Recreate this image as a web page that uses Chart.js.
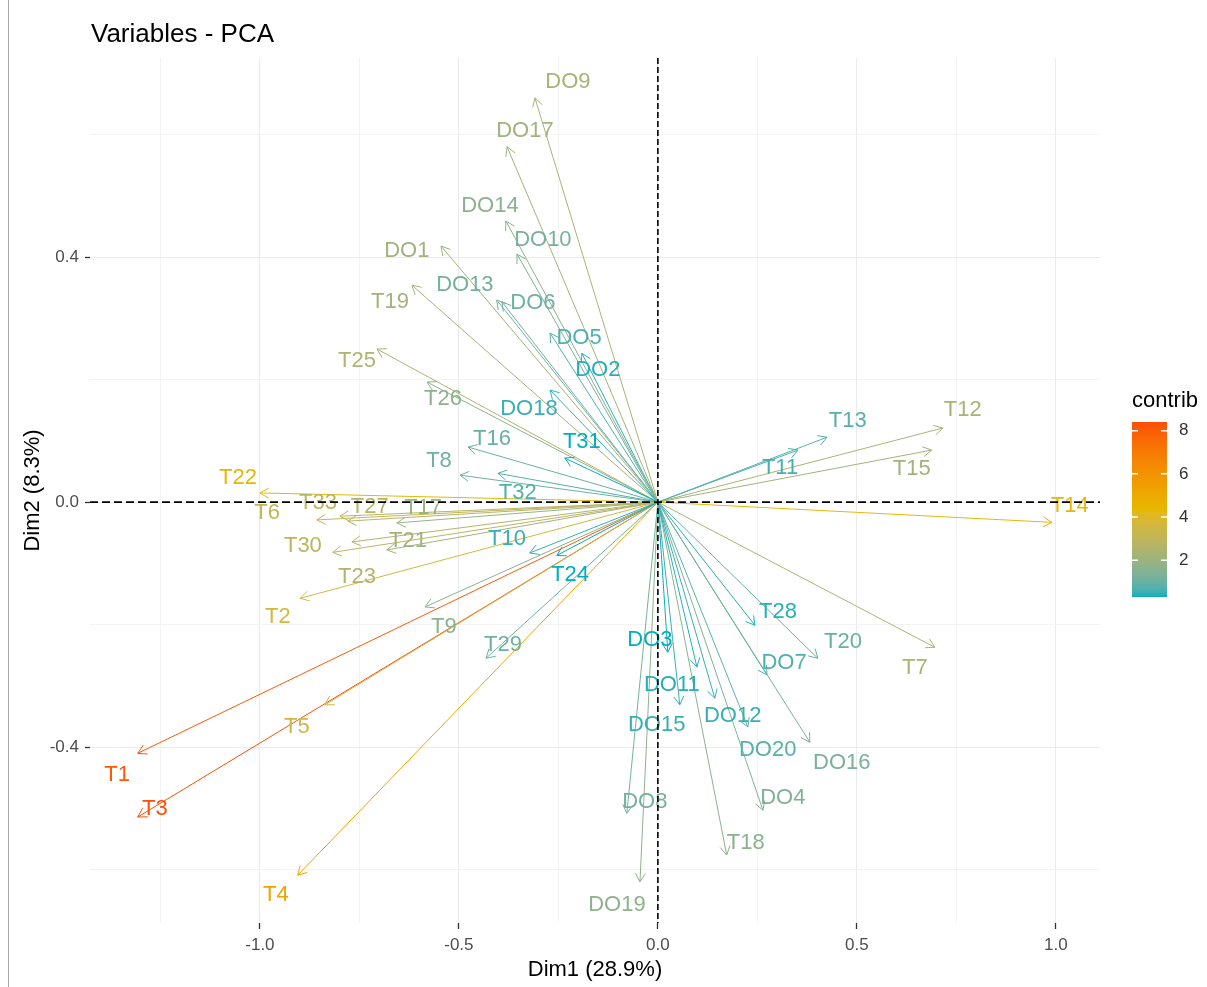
<!DOCTYPE html>
<html><head><meta charset="utf-8">
<script src="https://cdn.jsdelivr.net/npm/chart.js@4.4.1/dist/chart.umd.min.js"></script>
<style>
html,body{margin:0;padding:0;background:#fff;}
#wrap{position:relative;width:1207px;height:987px;overflow:hidden;}
#edge{position:absolute;left:8px;top:0;width:1px;height:987px;background:#a8a8a8;}
canvas{position:absolute;left:0;top:0;}
</style></head><body>
<div id="wrap"><canvas id="c" width="1207" height="987"></canvas><div id="edge"></div></div>
<script>
const variables = ["T1","T2","T3","T4","T5","T6","T7","T8","T9","T10","T11","T12","T13","T14","T15","T16","T17","T18","T19","T20","T21","T22","T23","T24","T25","T26","T27","T28","T29","T30","T31","T32","T33",
  "DO1","DO2","DO3","DO4","DO5","DO6","DO7","DO8","DO9","DO10","DO11","DO12","DO13","DO14","DO15","DO16","DO17","DO18","DO19","DO20"];
const dim1 = [-1.307,-0.899,-1.307,-0.905,-0.837,-0.857,0.696,-0.497,-0.585,-0.322,0.352,0.716,0.425,0.990,0.688,-0.477,-0.656,0.173,-0.618,0.402,-0.681,-1.000,-0.769,-0.254,-0.706,-0.580,-0.779,0.244,-0.432,-0.817,-0.234,-0.402,-0.799,
  -0.545,-0.191,0.025,0.264,-0.271,-0.392,0.274,-0.078,-0.309,-0.354,0.098,0.143,-0.405,-0.382,0.055,0.382,-0.379,-0.271,-0.045,0.226];
const dim2 = [-0.410,-0.157,-0.514,-0.609,-0.331,-0.029,-0.237,0.044,-0.171,-0.083,0.085,0.121,0.106,-0.033,0.085,0.090,-0.034,-0.576,0.354,-0.255,-0.078,0.015,-0.065,-0.087,0.250,0.196,-0.031,-0.201,-0.255,-0.082,0.072,0.047,-0.023,
  0.418,0.243,-0.245,-0.503,0.276,0.327,-0.282,-0.508,0.660,0.405,-0.269,-0.320,0.330,0.459,-0.331,-0.392,0.580,0.183,-0.620,-0.367];
const contrib = [8.1,3.6,8.4,5.2,3.5,3.2,2.4,1.1,1.6,0.5,0.6,2.3,0.8,4.3,2.1,1.0,1.9,1.6,2.2,1.0,2.1,4.4,2.6,0.3,2.5,1.6,2.7,0.4,1.1,2.9,0.3,0.7,2.8,
  2.1,0.4,0.3,1.4,0.7,1.1,0.7,1.2,2.3,1.3,0.4,0.5,1.2,1.6,0.5,1.3,2.1,0.5,1.7,0.8];
const labelDim1 = [-1.359,-0.955,-1.264,-0.960,-0.907,-0.982,0.646,-0.550,-0.538,-0.379,0.307,0.766,0.477,1.035,0.638,-0.417,-0.590,0.221,-0.673,0.465,-0.628,-1.055,-0.756,-0.221,-0.756,-0.540,-0.724,0.302,-0.389,-0.892,-0.191,-0.352,-0.854,
  -0.631,-0.151,-0.020,0.314,-0.198,-0.314,0.317,-0.033,-0.226,-0.289,0.035,0.188,-0.485,-0.422,-0.003,0.462,-0.334,-0.324,-0.103,0.276];
const labelDim2 = [-0.446,-0.188,-0.500,-0.642,-0.367,-0.018,-0.271,0.067,-0.204,-0.060,0.056,0.150,0.132,-0.007,0.054,0.103,-0.010,-0.557,0.327,-0.229,-0.064,0.039,-0.122,-0.119,0.230,0.168,-0.008,-0.180,-0.233,-0.072,0.098,0.015,-0.002,
  0.410,0.216,-0.225,-0.483,0.268,0.325,-0.263,-0.490,0.686,0.428,-0.299,-0.349,0.354,0.483,-0.364,-0.426,0.606,0.152,-0.658,-0.405];
const xTicks = [-1.25,-1.0,-0.75,-0.5,-0.25,0,0.25,0.5,0.75,1.0];
const xMajor = [-1.0,-0.5,0,0.5,1.0];
const yTicks = [-0.6,-0.4,-0.2,0,0.2,0.4,0.6];
const yMajor = [-0.4,0,0.4];
const legendTicks = [2,4,6,8];
const gradientColours = ["#00AFBB","#E7B800","#FC4E07"];

const FONT = '"Liberation Sans", Arial, sans-serif';

// ---- Lab colour interpolation (like ggplot2 gradientn) ----
function hexToRgb(h){return [parseInt(h.slice(1,3),16),parseInt(h.slice(3,5),16),parseInt(h.slice(5,7),16)];}
function toLin(c){c/=255;return c<=0.04045?c/12.92:Math.pow((c+0.055)/1.055,2.4);}
function fromLin(c){const v=c<=0.0031308?12.92*c:1.055*Math.pow(c,1/2.4)-0.055;return Math.round(Math.max(0,Math.min(1,v))*255);}
function rgbToLab(rgb){
  const R=toLin(rgb[0]),G=toLin(rgb[1]),B=toLin(rgb[2]);
  const X=(0.4124*R+0.3576*G+0.1805*B)/0.95047,Y=(0.2126*R+0.7152*G+0.0722*B),Z=(0.0193*R+0.1192*G+0.9505*B)/1.08883;
  const f=t=>t>0.008856?Math.cbrt(t):7.787*t+16/116;
  return [116*f(Y)-16,500*(f(X)-f(Y)),200*(f(Y)-f(Z))];
}
function labToRgb(lab){
  const fy=(lab[0]+16)/116,fx=fy+lab[1]/500,fz=fy-lab[2]/200;
  const fi=t=>t>0.206893?t*t*t:(t-16/116)/7.787;
  const X=0.95047*fi(fx),Y=fi(fy),Z=1.08883*fi(fz);
  return [fromLin(3.2406*X-1.5372*Y-0.4986*Z),fromLin(-0.9689*X+1.8758*Y+0.0415*Z),fromLin(0.0557*X-0.2040*Y+1.0570*Z)];
}
const labStops = gradientColours.map(c=>rgbToLab(hexToRgb(c)));
const cMin = Math.min(...contrib), cMax = Math.max(...contrib);
function colourFor(v){
  let t=(v-cMin)/(cMax-cMin); t=Math.max(0,Math.min(1,t));
  const seg=t<0.5?0:1, u=(t-seg*0.5)/0.5;
  const a=labStops[seg],b=labStops[seg+1];
  const rgb=labToRgb([a[0]+(b[0]-a[0])*u,a[1]+(b[1]-a[1])*u,a[2]+(b[2]-a[2])*u]);
  return 'rgb('+rgb.join(',')+')';
}
const colours = contrib.map(colourFor);

const isIn=(arr,v)=>arr.some(m=>Math.abs(m-v)<1e-9);

// later variables are drawn on top (as in the ggplot layer order)
const datasets = variables.map((v,i)=>({
  label:v,
  order:variables.length-i,
  data:[{x:0,y:0},{x:dim1[i],y:dim2[i]}],
  showLine:true, borderColor:colours[i], borderWidth:1, pointRadius:0, fill:false, tension:0
}));

const decor = {
  id:'decor',
  afterDatasetsDraw(chart){
    const {ctx,scales:{x,y},chartArea:a}=chart;
    const ox=x.getPixelForValue(0), oy=y.getPixelForValue(0);
    ctx.save();
    // arrow heads
    variables.forEach((v,i)=>{
      const px=x.getPixelForValue(dim1[i]), py=y.getPixelForValue(dim2[i]);
      const ang=Math.atan2(py-oy,px-ox), L=10, h=Math.PI/6;
      ctx.strokeStyle=colours[i]; ctx.lineWidth=1;
      ctx.beginPath();
      ctx.moveTo(px-L*Math.cos(ang-h),py-L*Math.sin(ang-h));
      ctx.lineTo(px,py);
      ctx.lineTo(px-L*Math.cos(ang+h),py-L*Math.sin(ang+h));
      ctx.stroke();
    });
    // labels
    ctx.font='22px '+FONT; ctx.textAlign='center'; ctx.textBaseline='middle';
    variables.forEach((v,i)=>{
      ctx.fillStyle=colours[i];
      ctx.fillText(v,x.getPixelForValue(labelDim1[i]),y.getPixelForValue(labelDim2[i]));
    });
    // dashed reference lines
    ctx.strokeStyle='#000'; ctx.lineWidth=1.6;
    ctx.setLineDash([8,4]);
    ctx.beginPath(); ctx.moveTo(a.left,oy); ctx.lineTo(a.right,oy); ctx.stroke();
    ctx.setLineDash([6,3]);
    ctx.beginPath(); ctx.moveTo(ox,a.top); ctx.lineTo(ox,a.bottom); ctx.stroke();
    ctx.restore();
  },
  afterDraw(chart){
    const {ctx,chartArea:a}=chart;
    ctx.save();
    // title
    ctx.fillStyle='#000'; ctx.font='26px '+FONT; ctx.textAlign='left'; ctx.textBaseline='alphabetic';
    ctx.fillText('Variables - PCA',91,42);
    // axis titles
    ctx.font='22px '+FONT; ctx.textAlign='center'; ctx.textBaseline='middle';
    ctx.fillText('Dim1 (28.9%)',(a.left+a.right)/2,970);
    ctx.save(); ctx.translate(33,(a.top+a.bottom)/2); ctx.rotate(-Math.PI/2);
    ctx.fillText('Dim2 (8.3%)',0,0); ctx.restore();
    // legend
    const bx=1132,bw=35,bt=422,bb=597;
    const vy=v=>bb-(v-cMin)/(cMax-cMin)*(bb-bt);
    for(let py=bt;py<bb;py++){
      const v=cMin+(bb-py-0.5)/(bb-bt)*(cMax-cMin);
      ctx.fillStyle=colourFor(v); ctx.fillRect(bx,py,bw,1);
    }
    ctx.strokeStyle='#fff'; ctx.lineWidth=1.5;
    ctx.fillStyle='#333'; ctx.font='17px '+FONT; ctx.textAlign='left'; ctx.textBaseline='middle';
    legendTicks.forEach(t=>{
      const py=vy(t);
      ctx.beginPath(); ctx.moveTo(bx,py); ctx.lineTo(bx+6,py); ctx.moveTo(bx+bw-6,py); ctx.lineTo(bx+bw,py); ctx.stroke();
      ctx.fillText(String(t),bx+bw+12,py);
    });
    ctx.fillStyle='#000'; ctx.font='22px '+FONT; ctx.textAlign='left'; ctx.textBaseline='middle';
    ctx.fillText('contrib',1132,401);
    ctx.restore();
  }
};

new Chart(document.getElementById('c'),{
  type:'scatter',
  data:{datasets},
  options:{
    responsive:false, animation:false, events:[],
    layout:{padding:{left:0,top:58,right:107,bottom:0}},
    plugins:{legend:{display:false},tooltip:{enabled:false},title:{display:false}},
    scales:{
      x:{type:'linear',min:-1.427,max:1.111,
        afterFit(s){s.height=64;},
        afterBuildTicks(s){s.ticks=xTicks.map(v=>({value:v}));},
        border:{display:false},
        grid:{color:c=>isIn(xMajor,c.tick.value)?'#EBEBEB':'#F3F3F3',lineWidth:1,drawTicks:true,tickLength:6,
          tickColor:c=>isIn(xMajor,c.tick.value)?'#333':'rgba(0,0,0,0)',tickWidth:1.3},
        ticks:{callback:v=>isIn(xMajor,v)?Number(v).toFixed(1):'',font:{family:FONT,size:17},color:'#4D4D4D',padding:6,maxRotation:0,autoSkip:false}
      },
      y:{type:'linear',min:-0.687,max:0.725,
        afterFit(s){s.width=90;},
        afterBuildTicks(s){s.ticks=yTicks.map(v=>({value:v}));},
        border:{display:false},
        grid:{color:c=>isIn(yMajor,c.tick.value)?'#EBEBEB':'#F3F3F3',lineWidth:1,drawTicks:true,tickLength:5,
          tickColor:c=>isIn(yMajor,c.tick.value)?'#333':'rgba(0,0,0,0)',tickWidth:1.3},
        ticks:{callback:v=>isIn(yMajor,v)?Number(v).toFixed(1):'',font:{family:FONT,size:17},color:'#4D4D4D',padding:6,autoSkip:false}
      }
    }
  },
  plugins:[decor]
});
</script>
</body></html>
